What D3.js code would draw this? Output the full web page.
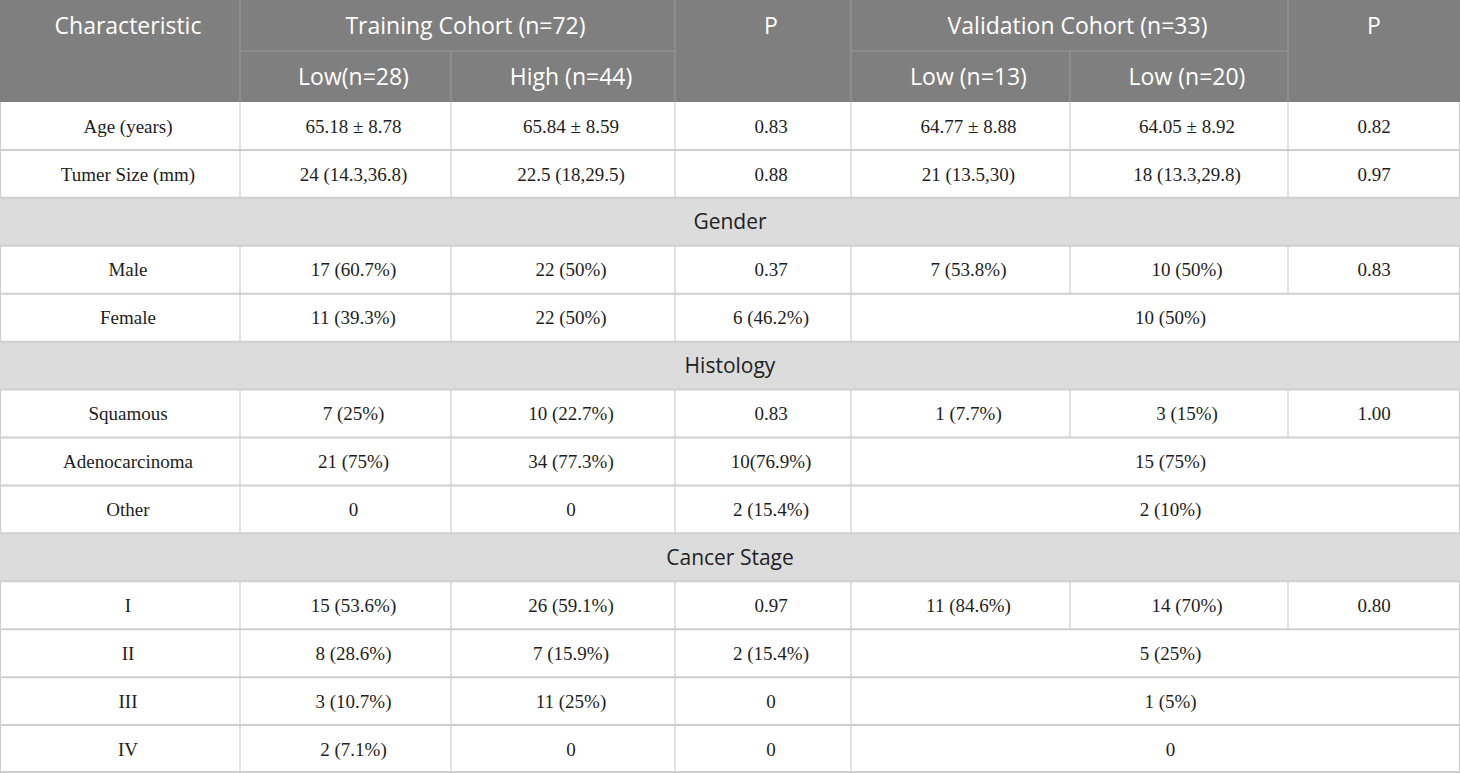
<!DOCTYPE html>
<html>
<head>
<meta charset="utf-8">
<script src="https://cdn.jsdelivr.net/npm/d3@7"></script>
<style>
  body { margin: 0; background: #fff; }
  svg { display: block; }
</style>
</head>
<body>
<svg id="table"></svg>
<script>
// header texts
const groupHeaders = ["Characteristic", "Training Cohort (n=72)", "P", "Validation Cohort (n=33)", "P"];
const subHeaders = ["Low(n=28)", "High (n=44)", "Low (n=13)", "Low (n=20)"];

// body rows (null = empty / merged)
const rowLabels = ["Age (years)", "Tumer Size (mm)", "Gender", "Male", "Female", "Histology",
    "Squamous", "Adenocarcinoma", "Other", "Cancer Stage", "I", "II", "III", "IV"];
const sectionRows = ["Gender", "Histology", "Cancer Stage"];
const trainingLow = ["65.18 ± 8.78", "24 (14.3,36.8)", null, "17 (60.7%)", "11 (39.3%)", null,
    "7 (25%)", "21 (75%)", "0", null, "15 (53.6%)", "8 (28.6%)", "3 (10.7%)", "2 (7.1%)"];
const trainingHigh = ["65.84 ± 8.59", "22.5 (18,29.5)", null, "22 (50%)", "22 (50%)", null,
    "10 (22.7%)", "34 (77.3%)", "0", null, "26 (59.1%)", "7 (15.9%)", "11 (25%)", "0"];
const trainingP = ["0.83", "0.88", null, "0.37", "6 (46.2%)", null,
    "0.83", "10(76.9%)", "2 (15.4%)", null, "0.97", "2 (15.4%)", "0", "0"];
const validationLow = ["64.77 ± 8.88", "21 (13.5,30)", null, "7 (53.8%)", "10 (50%)", null,
    "1 (7.7%)", "15 (75%)", "2 (10%)", null, "11 (84.6%)", "5 (25%)", "1 (5%)", "0"];
const validationHigh = ["64.05 ± 8.92", "18 (13.3,29.8)", null, "10 (50%)", null, null,
    "3 (15%)", null, null, null, "14 (70%)", null, null, null];
const validationP = ["0.82", "0.97", null, "0.83", null, null,
    "1.00", null, null, null, "0.80", null, null, null];

const width = 1460, height = 773;
const headerH = 102;
const colWidths = [240, 211, 224, 176, 219, 218, 172];
const colEdges = d3.cumsum([0].concat(colWidths)); // 0,240,451,...
const lastCol = colWidths.length - 1;
const nudge = c => c === lastCol ? 0 : 8;

const headerBg = "#7f7f7f", headerLine = "#9a9a9a";
const sectionBg = "#dcdcdc", gridLine = "#cfcfcf";
const headerFont = "'Open Sans', sans-serif";
const bodyFont = "'Liberation Serif', 'Times New Roman', serif";

const svg = d3.select("#table")
    .attr("width", width)
    .attr("height", height);

const yscale = d3.scaleBand()
    .domain(d3.range(rowLabels.length))
    .range([headerH, height]);

const hscale = d3.scaleBand()
    .domain([0, 1])
    .range([0, headerH]);

const spanX = (c0, c1) => (colEdges[c0] + colEdges[c1 + 1]) / 2 + nudge(c0);

// ---------- header ----------
svg.append("rect")
    .attr("x", 0).attr("y", 0)
    .attr("width", width).attr("height", headerH)
    .attr("fill", headerBg);

// group header spans: [startCol, endCol]
const groupSpans = [[0, 0], [1, 2], [3, 3], [4, 5], [6, 6]];
const header = svg.append("g");

header.selectAll("line.hv")
    .data([1, 3, 4, 6])
    .join("line")
    .attr("x1", d => colEdges[d]).attr("x2", d => colEdges[d])
    .attr("y1", 0).attr("y2", headerH)
    .attr("stroke", headerLine);

header.selectAll("line.hsub")
    .data([2, 5])
    .join("line")
    .attr("x1", d => colEdges[d]).attr("x2", d => colEdges[d])
    .attr("y1", hscale(1)).attr("y2", headerH)
    .attr("stroke", headerLine);

header.selectAll("line.hh")
    .data([[1, 2], [4, 5]])
    .join("line")
    .attr("x1", d => colEdges[d[0]]).attr("x2", d => colEdges[d[1] + 1])
    .attr("y1", hscale(1)).attr("y2", hscale(1))
    .attr("stroke", headerLine);

header.selectAll("text.group")
    .data(groupHeaders)
    .join("text")
    .attr("x", (d, i) => spanX(groupSpans[i][0], groupSpans[i][1]))
    .attr("y", hscale(0) + hscale.bandwidth() / 2)
    .attr("dy", "0.35em")
    .attr("text-anchor", "middle")
    .attr("fill", "#fff")
    .attr("font-family", headerFont)
    .attr("font-size", 23)
    .text(d => d);

const subCols = [1, 2, 4, 5];
header.selectAll("text.sub")
    .data(subHeaders)
    .join("text")
    .attr("x", (d, i) => spanX(subCols[i], subCols[i]))
    .attr("y", hscale(1) + hscale.bandwidth() / 2)
    .attr("dy", "0.35em")
    .attr("text-anchor", "middle")
    .attr("fill", "#fff")
    .attr("font-family", headerFont)
    .attr("font-size", 23)
    .text(d => d);

// ---------- body ----------
const rows = rowLabels.map((label, i) => {
    if (sectionRows.includes(label)) return { i, label, section: true, cells: [] };
    const vals = [label, trainingLow[i], trainingHigh[i], trainingP[i],
        validationLow[i], validationHigh[i], validationP[i]];
    // trailing nulls -> last non-null value spans to the end
    let last = lastCol;
    while (vals[last] === null) last--;
    const cells = vals.slice(0, last + 1).map((v, c) => ({
        text: v, c0: c, c1: c === last ? lastCol : c, merged: c === last && c < lastCol
    }));
    return { i, label, section: false, cells };
});

const body = svg.append("g");

body.selectAll("rect.section")
    .data(rows.filter(r => r.section))
    .join("rect")
    .attr("x", 0).attr("y", d => yscale(d.i))
    .attr("width", width).attr("height", yscale.bandwidth())
    .attr("fill", sectionBg);

// horizontal grid lines
body.selectAll("line.hl")
    .data(d3.range(1, rowLabels.length + 1))
    .join("line")
    .attr("x1", 0).attr("x2", width)
    .attr("y1", d => d < rowLabels.length ? yscale(d) : height - 1)
    .attr("y2", d => d < rowLabels.length ? yscale(d) : height - 1)
    .attr("stroke", gridLine)
    .attr("stroke-width", 2);

// vertical lines inside each row
const vlines = [];
rows.filter(r => !r.section).forEach(r => {
    r.cells.forEach(cell => {
        if (cell.c0 > 0) vlines.push({ x: colEdges[cell.c0], y: yscale(r.i) });
    });
    vlines.push({ x: 0.5, y: yscale(r.i) });
    vlines.push({ x: width - 0.5, y: yscale(r.i) });
});
body.selectAll("line.vl")
    .data(vlines)
    .join("line")
    .attr("x1", d => d.x).attr("x2", d => d.x)
    .attr("y1", d => d.y).attr("y2", d => d.y + yscale.bandwidth())
    .attr("stroke", gridLine)
    .attr("stroke-width", 1.2);

body.selectAll("text.section")
    .data(rows.filter(r => r.section))
    .join("text")
    .attr("x", width / 2)
    .attr("y", d => yscale(d.i) + yscale.bandwidth() / 2)
    .attr("dy", "0.35em")
    .attr("text-anchor", "middle")
    .attr("fill", "#222")
    .attr("font-family", headerFont)
    .attr("font-size", 21)
    .text(d => d.label);

const cellData = rows.flatMap(r => r.cells.map(c => ({ ...c, i: r.i })));
body.selectAll("text.cell")
    .data(cellData)
    .join("text")
    .attr("x", d => spanX(d.c0, d.c1) + (d.merged ? 7 : 0))
    .attr("y", d => yscale(d.i) + yscale.bandwidth() / 2)
    .attr("dy", "0.35em")
    .attr("text-anchor", "middle")
    .attr("fill", "#1e1e1e")
    .attr("font-family", bodyFont)
    .attr("font-size", 19)
    .text(d => d.text);
</script>
</body>
</html>
